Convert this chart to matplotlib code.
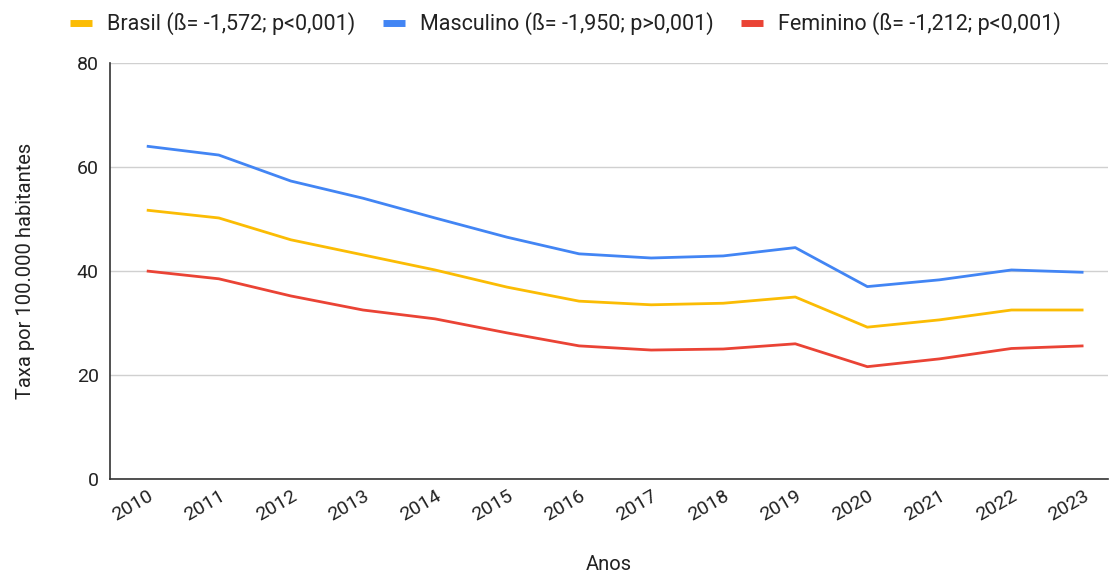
import matplotlib
matplotlib.use("Agg")
import matplotlib.pyplot as plt
from matplotlib.lines import Line2D

years = [2010, 2011, 2012, 2013, 2014, 2015, 2016, 2017, 2018, 2019, 2020, 2021, 2022, 2023]
brasil = [51.7, 50.2, 46.0, 43.1, 40.2, 36.9, 34.2, 33.5, 33.8, 35.0, 29.2, 30.6, 32.5, 32.5]
masculino = [64.0, 62.3, 57.3, 54.0, 50.2, 46.5, 43.3, 42.5, 42.9, 44.5, 37.0, 38.3, 40.2, 39.75]
feminino = [40.0, 38.5, 35.2, 32.5, 30.8, 28.1, 25.6, 24.8, 25.0, 26.0, 21.6, 23.1, 25.1, 25.6]

labels = ["Brasil (ß= -1,572; p<0,001)", "Masculino (ß= -1,950; p>0,001)", "Feminino (ß= -1,212; p<0,001)"]
colors = ["#fbbc04", "#4285f4", "#ea4335"]
yticks = [0, 20, 40, 60, 80]

plt.rcParams['font.family'] = ['Roboto', 'DejaVu Sans']

fig = plt.figure(figsize=(11.09, 5.77), dpi=100)
ax = fig.add_axes([110/1109, 1 - 479/577, (1108-110)/1109, (479-63)/577])

for vals, c in zip([brasil, masculino, feminino], colors):
    ax.plot(years, vals, color=c, lw=2.0, solid_joinstyle='round', solid_capstyle='butt', zorder=3)

ax.set_ylim(0, 80)
ax.set_xlim(2009.49, 2023.34)
ax.set_yticks(yticks)
ax.set_xticks(years)
ax.set_xticklabels([str(y) for y in years], rotation=30, ha='right', rotation_mode='anchor')
ax.tick_params(axis='both', length=0, labelsize=14, colors='#333333', labelcolor='#222222')
ax.tick_params(axis='x', pad=6)
ax.tick_params(axis='y', pad=8)
ax.grid(axis='y', color='#d0d0d0', lw=1.0, zorder=0)
for s in ['top', 'right']:
    ax.spines[s].set_visible(False)
for s in ['left', 'bottom']:
    ax.spines[s].set_color('#333333')
    ax.spines[s].set_linewidth(1.2)

ax.set_xlabel("Anos", fontsize=14.5, color='#222222', labelpad=22)
ax.set_ylabel("Taxa por 100.000 habitantes", fontsize=14.5, color='#222222', labelpad=30)

handles = [Line2D([0], [0], color=c, lw=5, solid_capstyle='butt') for c in colors]
fig.legend(handles, labels, loc='upper center', bbox_to_anchor=(0.510, 1.012), ncol=3,
           frameon=False, fontsize=15.5, handlelength=1.0, handletextpad=0.7, columnspacing=1.3,
           labelcolor='#222222')

fig.savefig("out.png", dpi=100)
